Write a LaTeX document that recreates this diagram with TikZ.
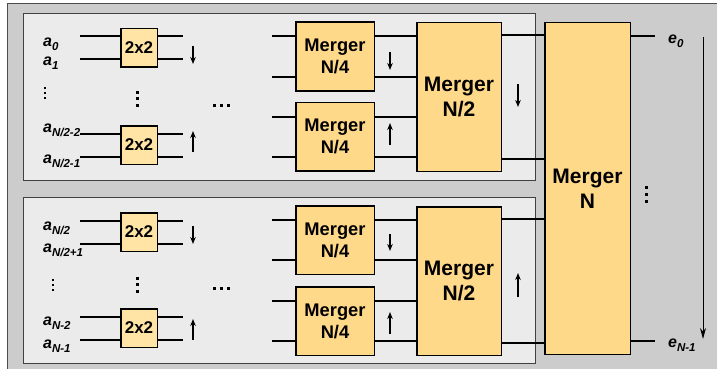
\documentclass[tikz,border=0pt]{standalone}
\usepackage{fontspec}
\setmainfont{Liberation Sans}
\usetikzlibrary{arrows.meta}

\definecolor{outergray}{HTML}{CCCCCC}
\definecolor{innergray}{HTML}{EBEBEB}
\definecolor{mergefill}{HTML}{FFD98A}
\definecolor{swapfill}{HTML}{FFE4A6}

% lowered subscript for the port labels
\newcommand\portidx[1]{\raisebox{-4pt}{\fontsize{11.5}{11.5}\selectfont #1}}

\begin{document}
\begin{tikzpicture}[
  x = 1pt,
  y = -1pt,
  panel/.style = {fill = innergray, draw = black!75, line width = 0.8pt},
  swapblock/.style = {rectangle, draw, line width = 1.5pt, fill = swapfill, inner sep = 0pt, minimum width = 36.5pt, minimum height = 38.5pt, font = \fontsize{17}{20}\selectfont\bfseries},
  mergeblock/.style = {rectangle, draw, line width = 1.5pt, fill = mergefill, inner sep = 0pt, align = center, minimum width = 78.5pt, minimum height = 68.5pt, font = \fontsize{18.3}{22}\selectfont\bfseries},
  bigmerge/.style = {mergeblock, font = \fontsize{21}{25}\selectfont\bfseries},
  wire/.style = {line width = 2pt},
  dirarrow/.style = {line width = 1.4pt, -{Stealth[length = 7pt, width = 5.5pt]}},
  sortarrow/.style = {line width = 1pt, -{Stealth[length = 11pt, width = 6pt, inset = 3.5pt]}},
  portlabel/.style = {anchor = base west, inner sep = 0pt, font = \fontsize{16}{16}\selectfont\bfseries\itshape}
]
  \useasboundingbox (0,0) rectangle (717,369);

  % background frame and the two half panels
  \fill[outergray] (7,4) rectangle (717,369);
  \draw[line width = 1pt, black!70] (7,369) -- (7,4) -- (717,4);
  \draw[panel] (23,13) rectangle (535,180);
  \draw[panel] (23,197) rectangle (535,363);

  % blocks
  \node[swapblock] (sa) at (139,48) {2x2};
  \node[swapblock] (sb) at (139,145) {2x2};
  \node[swapblock] (sc) at (139,232) {2x2};
  \node[swapblock] (sd) at (139,328) {2x2};
  \node[mergeblock] (qa) at (335,56.5) {Merger\\N/4};
  \node[mergeblock] (qb) at (335,136.5) {Merger\\N/4};
  \node[mergeblock] (qc) at (335,240) {Merger\\N/4};
  \node[mergeblock] (qd) at (335,321) {Merger\\N/4};
  \node[bigmerge, minimum width = 84.5pt, minimum height = 148.5pt] (ha) at (459,97) {Merger\\N/2};
  \node[bigmerge, minimum width = 84.5pt, minimum height = 148.5pt] (hb) at (459,281) {Merger\\N/2};
  \node[bigmerge, minimum width = 85.5pt, minimum height = 331.5pt] (mn) at (587.5,188.5) {Merger\\N};

  % wires
  \foreach \s in {sa,sb,sc,sd} {
    \foreach \dy in {11.5pt,-11.5pt} {
      \draw[wire] ([yshift=\dy]\s.west) -- ++(-40,0);
      \draw[wire] ([yshift=\dy]\s.east) -- ++(25,0);
    }
  }
  \foreach \m/\t in {qa/ha,qb/ha,qc/hb,qd/hb} {
    \foreach \dy in {20pt,-20pt} {
      \draw[wire] ([yshift=\dy]\m.west) -- ++(-23,0);
      \path ([yshift=\dy]\m.east) coordinate (p);
      \draw[wire] (p) -- (p -| \t.west);
    }
  }
  \foreach \h in {ha,hb} {
    \foreach \dy in {62pt,-62pt} {
      \path ([yshift=\dy]\h.east) coordinate (p);
      \draw[wire] (p) -- (p -| mn.west);
    }
  }
  \foreach \dy in {152.5pt,-152.5pt}
    \draw[wire] ([yshift=\dy]mn.east) -- ++(24,0);

  % port labels
  \node[portlabel] (ina)  at (43,47)  {a\portidx{0}};
  \node[portlabel] (inb)  at (43,66)  {a\portidx{1}};
  \node[portlabel] (inc)  at (43,132) {a\portidx{N/2-2}};
  \node[portlabel] (ind)  at (43,163) {a\portidx{N/2-1}};
  \node[portlabel] (ine)  at (43,230) {a\portidx{N/2}};
  \node[portlabel] (inf)  at (43,252) {a\portidx{N/2+1}};
  \node[portlabel] (ing)  at (43,325) {a\portidx{N-2}};
  \node[portlabel] (inh)  at (43,348) {a\portidx{N-1}};
  \node[portlabel] (outa) at (668,44)  {e\portidx{0}};
  \node[portlabel] (outb) at (668,347) {e\portidx{N-1}};

  % dots
  \foreach \px/\py in {45/88,45/93,45/98,53/280,53/285,53/290}
    \fill (\px-1.2,\py-1.2) rectangle ++(2.4,2.4);
  \foreach \px/\py in {137/92,137/98.5,137/105,137/278,137/284.5,137/291,
                       214/105,221/105,228/105,214/288,221/288,228/288,
                       646/187,646/194,646/201}
    \fill (\px-1.5,\py-1.5) rectangle ++(3,3);

  % sort directions
  \draw[dirarrow] (193,46) -- (193,64);
  \draw[dirarrow] (193,152) -- (193,131);
  \draw[dirarrow] (193,226) -- (193,244);
  \draw[dirarrow] (193,340) -- (193,319);
  \draw[dirarrow] (390,52) -- (390,70);
  \draw[dirarrow] (390,145) -- (390,123);
  \draw[dirarrow] (390,234) -- (390,251);
  \draw[dirarrow] (390,334) -- (390,312);
  \draw[dirarrow] (518,84) -- (518,107);
  \draw[dirarrow] (518,297) -- (518,273);
  \draw[sortarrow] (703,37) -- (703,339);
\end{tikzpicture}
\end{document}
